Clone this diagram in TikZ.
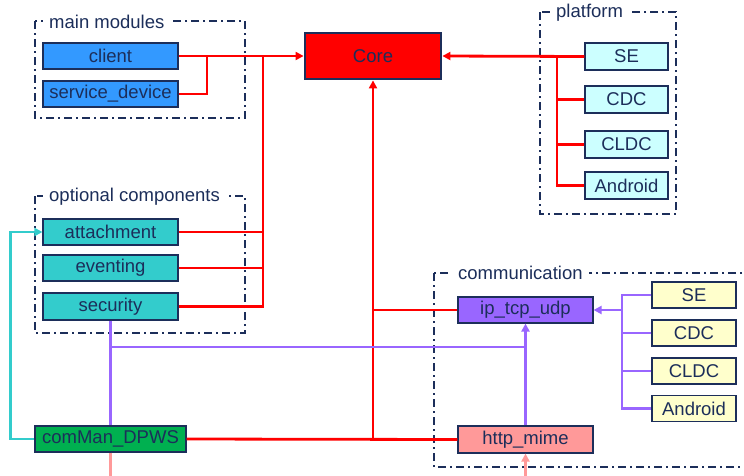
\documentclass[tikz,border=0pt]{standalone}
\usepackage{fontspec}
\setmainfont{Liberation Sans}
\usetikzlibrary{arrows.meta}
\definecolor{navy}{HTML}{1C2E5A}
\definecolor{cblue}{HTML}{3399FF}
\definecolor{cteal}{HTML}{33CCCC}
\definecolor{clcyan}{HTML}{CCFFFF}
\definecolor{cyellow}{HTML}{FFFFCC}
\definecolor{cpurple}{HTML}{9966FF}
\definecolor{cpink}{HTML}{FF9999}
\definecolor{cgreen}{HTML}{00B050}
\definecolor{cred}{HTML}{FF0000}
\tikzset{
  box/.style={draw=navy, line width=1.1pt, text=navy, minimum width=135pt, minimum height=26pt, inner sep=0pt, font=\fontsize{18.5}{21}\selectfont},
  smallbox/.style={box, minimum width=83pt},
  frame/.style={draw=navy, line width=1.8pt, dash pattern=on 8pt off 4pt on 2pt off 4pt},
  flabel/.style={fill=white, text=navy, inner xsep=6pt, inner ysep=2pt, anchor=west, font=\fontsize{18.5}{21}\selectfont},
  redl/.style={draw=cred, line width=2.8pt},
  purl/.style={draw=cpurple, line width=2.8pt},
  cyl/.style={draw=cteal, line width=2.8pt},
  pkl/.style={draw=cpink, line width=2.8pt},
  arr/.style={-{Triangle[length=8pt,width=8pt]}}
}
\begin{document}
\begin{tikzpicture}[x=1pt,y=-1pt]
\useasboundingbox[fill=white] (0,0) rectangle (744,475);
% frames
\draw[frame] (35,21) rectangle (245,118);
\node[flabel] at (43,22) {main modules};
\draw[frame] (540,12) rectangle (676,214);
\node[flabel] at (550,13) {platform};
\draw[frame] (35,196) rectangle (245,333);
\node[flabel] at (43,197) {optional components};
\draw[frame] (434,273) rectangle (760,467);
\node[flabel] at (452,273) {communication};
% nodes
\node[box, fill=cblue] (client) at (110.5,56) {client};
\node[box, fill=cblue] (sd) at (110.5,94) {service\_device};
\node[box, fill=cred, minimum width=136pt, minimum height=46pt, line width=2.8pt] (core) at (373,56) {Core};
\node[smallbox, fill=clcyan, minimum height=27pt] (pSE) at (626.5,56.5) {SE};
\node[smallbox, fill=clcyan, minimum height=27pt] (pCDC) at (626.5,99.5) {CDC};
\node[smallbox, fill=clcyan, minimum height=27pt] (pCLDC) at (626.5,144.5) {CLDC};
\node[smallbox, fill=clcyan, minimum height=27pt] (pAnd) at (626.5,185.5) {Android};
\node[box, fill=cteal] (att) at (110.5,232) {attachment};
\node[box, fill=cteal] (evt) at (110.5,268) {eventing};
\node[box, fill=cteal, minimum height=27pt] (sec) at (110.5,306.5) {security};
\node[box, fill=cgreen, minimum width=151pt] (cm) at (110.5,439) {comMan\_DPWS};
\node[box, fill=cpurple] (ip) at (525.5,310) {ip\_tcp\_udp};
\node[box, fill=cpink, minimum height=27pt] (http) at (525.5,439.5) {http\_mime};
\node[smallbox, fill=cyellow, minimum width=84pt] (cSE) at (694,295) {SE};
\node[smallbox, fill=cyellow, minimum width=84pt] (cCDC) at (694,333) {CDC};
\node[smallbox, fill=cyellow, minimum width=84pt] (cCLDC) at (694,371) {CLDC};
\node[smallbox, fill=cyellow, minimum width=84pt] (cAnd) at (694,408.5) {Android};
% junction coordinates
\coordinate (j1) at (207,56);
\coordinate (j2) at (263,56);
\coordinate (j3) at (557,56);
\coordinate (j4) at (373,439);
\coordinate (j5) at (525.5,347);
\coordinate (j6) at (622,310);
\coordinate (j6t) at (622,295);
\coordinate (j6b) at (622,408.5);
\coordinate (b1) at (110.5,476);
\coordinate (b2) at (525.5,476);
% red connectors
\draw[redl, arr] (client.east) -- (core.west);
\draw[redl] (sd.east) -| (j1);
\draw[redl] (sec.east) -| (j2);
\draw[redl] (att.east) -- (att.east -| j2);
\draw[redl] (evt.east) -- (evt.east -| j2);
\draw[redl, arr] (pSE.west) -- (core.east);
\draw[redl] (pAnd.west) -| (j3);
\draw[redl] (pCDC.west) -- (pCDC.west -| j3);
\draw[redl] (pCLDC.west) -- (pCLDC.west -| j3);
\draw[redl] (cm.east) -- (http.west);
\draw[redl, arr] (j4) -- (core.south);
\draw[redl] (ip.west) -- (ip.west -| j4);
% cyan
\draw[cyl, arr] (cm.west) -- ++(-24,0) |- (att.west);
% purple
\draw[purl] (sec.south) -- (cm.north);
\draw[purl] (sec.south |- j5) -- (j5);
\draw[purl, arr] (http.north) -- (ip.south);
\draw[purl, arr] (j6) -- (ip.east);
\draw[purl] (cSE.west) -- (j6t) -- (j6b) -- (cAnd.west);
\draw[purl] (cCDC.west) -- (cCDC.west -| j6);
\draw[purl] (cCLDC.west) -- (cCLDC.west -| j6);
% pink
\draw[pkl] (cm.south) -- (b1);
\draw[pkl, arr] (b2) -- (http.south);
\end{tikzpicture}
\end{document}
